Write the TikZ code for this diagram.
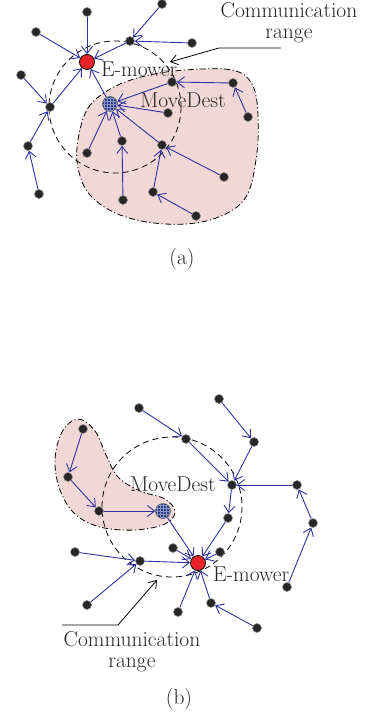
\documentclass[tikz,border=0pt]{standalone}
\usetikzlibrary{arrows.meta}
\definecolor{linkblue}{RGB}{44,50,160}
\definecolor{destblue}{RGB}{44,62,142}
\definecolor{mowerred}{RGB}{232,36,42}
\definecolor{zonepink}{RGB}{242,215,215}
\begin{document}
\begin{tikzpicture}[x=1pt,y=-1pt,
  dot/.style={circle,inner sep=0pt,minimum size=9pt,fill=black!85,draw=black!45,line width=0.6pt},
  mower/.style={circle,inner sep=0pt,minimum size=15pt,fill=mowerred,draw=black,line width=0.8pt},
  dest/.style={circle,inner sep=0pt,minimum size=15pt,fill=destblue,draw=black!60,line width=0.6pt,
    path picture={\foreach \k in {-6,-3,0,3,6}{
      \draw[destblue!55!white,line width=0.35pt]
        ([xshift=\k pt]path picture bounding box.north) -- ([xshift=\k pt]path picture bounding box.south);
      \draw[destblue!55!white,line width=0.35pt]
        ([yshift=\k pt]path picture bounding box.west) -- ([yshift=\k pt]path picture bounding box.east);}}},
  link/.style={draw=linkblue,line width=0.9pt,-{Straight Barb[length=7pt,width=11pt,line width=0.9pt]}},
  commrange/.style={draw=black,line width=0.8pt,dash pattern=on 6pt off 4pt},
  zone/.style={fill=zonepink,draw=black,line width=0.8pt,dash pattern=on 6pt off 2.5pt on 1.2pt off 2.5pt},
  callout/.style={draw=black,line width=0.8pt,-{Straight Barb[length=7pt,width=10pt,line width=0.8pt]}},
  lbl/.style={inner sep=0pt,text=black!85,font=\fontsize{21.5}{21.5}\selectfont}]

\useasboundingbox (0,0) rectangle (366,715);

% ---------- (a) ----------
\path[zone] plot[smooth cycle,tension=0.6] coordinates {
  (78,140) (88,108) (112,88) (145,76) (185,70) (232,70) (252,84) (258,115)
  (256,160) (244,200) (210,220) (165,224) (120,215) (90,195) (78,168)};
\draw[commrange] (115,107) circle[radius=66];

\node[mower] (Am) at (87,62) {};
\node[dest]  (Ad) at (110,104) {};
\node[dot] (a1) at (87,12) {};
\node[dot] (a2) at (36,32) {};
\node[dot] (a3) at (130,41) {};
\node[dot] (a4) at (162,4) {};
\node[dot] (a5) at (192,43) {};
\node[dot] (a6) at (21,75) {};
\node[dot] (a7) at (50,107) {};
\node[dot] (a8) at (28,146) {};
\node[dot] (a9) at (39,194) {};
\node[dot] (a10) at (172,82) {};
\node[dot] (a11) at (233,83) {};
\node[dot] (a12) at (248,117) {};
\node[dot] (a13) at (168,113) {};
\node[dot] (a14) at (87,153) {};
\node[dot] (a15) at (122,141) {};
\node[dot] (a16) at (123,200) {};
\node[dot] (a17) at (162,145) {};
\node[dot] (a18) at (224,177) {};
\node[dot] (a19) at (153,192) {};
\node[dot] (a20) at (196,216) {};

\foreach \s/\t in {a1/Am,a2/Am,a3/Am,a4/a3,a5/a3,a6/a7,a7/Am,a8/a7,a9/a8,Ad/Am,
  a10/Ad,a11/a10,a12/a11,a13/Ad,a14/Ad,a15/Ad,a16/a15,a17/Ad,a18/a17,a19/a17,a20/a19}
  \draw[link] (\s) -- (\t);

\node[lbl,anchor=base west] (mowA) at (101,76) {E-mower};
\node[lbl,anchor=base west] (destA) at (140,107) {MoveDest};
\node[lbl,align=center,anchor=north] (comA) at (289,2) {Communication\\range};
\coordinate (ra0) at (281,48);
\coordinate (ra1) at (219,48);
\coordinate (ra2) at (170,62);
\draw[callout] (ra0) -- (ra1) -- (ra2);
\node[lbl,anchor=base] (capA) at (182,264) {(a)};

% ---------- (b) ----------
\path[zone] plot[smooth cycle,tension=0.6] coordinates {
  (78,419) (95,431) (106,455) (118,477) (140,491) (165,499) (175,512) (165,524)
  (135,530) (100,527) (75,514) (60,490) (55,460) (62,432)};
\draw[commrange] (172,507) circle[radius=70];

\node[mower] (Bm) at (198,563) {};
\node[dest]  (Bd) at (163,511) {};
\node[dot] (b1) at (139,408) {};
\node[dot] (b2) at (186,439) {};
\node[dot] (b3) at (219,399) {};
\node[dot] (b4) at (254,442) {};
\node[dot] (b5) at (232,485) {};
\node[dot] (b6) at (297,485) {};
\node[dot] (b7) at (313,523) {};
\node[dot] (b8) at (287,587) {};
\node[dot] (b9) at (228,518) {};
\node[dot] (b10) at (220,552) {};
\node[dot] (b11) at (83,429) {};
\node[dot] (b12) at (68,477) {};
\node[dot] (b13) at (99,511) {};
\node[dot] (b14) at (173,548) {};
\node[dot] (b15) at (75,552) {};
\node[dot] (b16) at (140,561) {};
\node[dot] (b17) at (87,605) {};
\node[dot] (b18) at (178,612) {};
\node[dot] (b19) at (211,603) {};
\node[dot] (b20) at (257,628) {};

\foreach \s/\t in {b1/b2,b2/b5,b3/b4,b4/b5,b6/b5,b7/b6,b8/b7,b5/b9,b9/Bm,b10/Bm,
  b11/b12,b12/b13,b13/Bd,Bd/Bm,b14/Bm,b15/b16,b16/Bm,b17/b16,b18/Bm,b19/Bm,b20/b19}
  \draw[link] (\s) -- (\t);

\node[lbl,anchor=base west] (mowB) at (213,581) {E-mower};
\node[lbl,anchor=base west] (destB) at (130,491) {MoveDest};
\node[lbl,align=center,anchor=north] (comB) at (132,631) {Communication\\range};
\coordinate (rb0) at (62,625);
\coordinate (rb1) at (118,625);
\coordinate (rb2) at (157,580);
\draw[callout] (rb0) -- (rb1) -- (rb2);
\node[lbl,anchor=base] (capB) at (179,704) {(b)};
\end{tikzpicture}
\end{document}
